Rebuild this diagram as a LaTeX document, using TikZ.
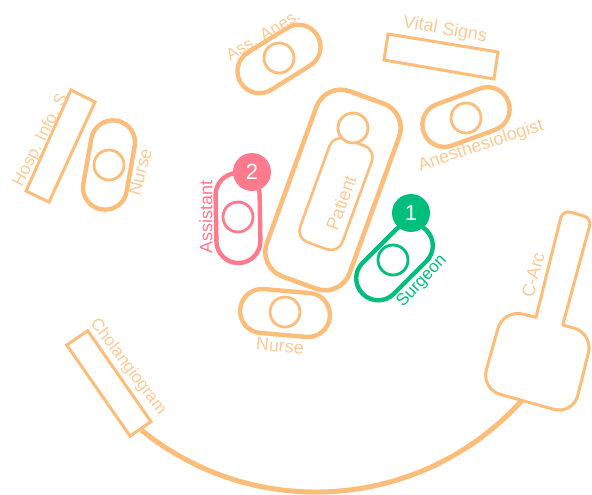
\documentclass[tikz,border=0pt]{standalone}
\usepackage{fontspec}
\setmainfont{Liberation Sans}
\definecolor{org}{HTML}{FDBD7A}
\definecolor{orgt}{HTML}{FFC993}
\definecolor{pnk}{HTML}{FF7A8C}
\definecolor{grn}{HTML}{00BF7D}
\tikzset{
  x=1pt,y=-1pt,
  pill/.style={draw=#1,line width=4.4pt,rounded corners=21.9pt,minimum width=44pt,minimum height=90pt,inner sep=0pt,outer sep=0pt},
  pill/.default=org,
  head/.style={draw=#1,line width=2.8pt,fill=white,circle,minimum size=30pt,inner sep=0pt,outer sep=0pt},
  head/.default=org,
  lbl/.style={text=#1,font=\fontsize{18}{18}\selectfont,inner sep=0pt},
  lbl/.default=orgt,
  lbls/.style={text=#1,font=\fontsize{17}{17}\selectfont,inner sep=0pt},
  lbls/.default=orgt,
  badge/.style={fill=#1,circle,minimum size=38pt,inner sep=0pt,text=white,font=\fontsize{22}{22}\selectfont},
  panel/.style={draw=org,line width=3pt,line join=miter},
}
\begin{document}
\begin{tikzpicture}
\useasboundingbox (0,0) rectangle (592,495);
% big arc
\coordinate (arcstart) at (141.7,430.3);
\draw[org,line width=5pt] (arcstart) arc[start angle=129,end angle=42,radius=277];
% table and patient
\node[draw=org,line width=4.6pt,rounded corners=26pt,minimum width=88pt,minimum height=197pt,rotate=-20,inner sep=0pt] (table) at (333,190) {};
\node[draw=org,line width=2.6pt,rounded corners=12pt,minimum width=45pt,minimum height=110pt,rotate=-20,inner sep=0pt] (body) at (336,194) {};
\node[head] (phead) at (353,128) {};
\node[lbl,rotate=70] (tp) at (341,203) {Patient};
% staff
\node[pill,rotate=-58] (asspill) at (279,59) {};
\node[head] (asshead) at (279,58) {};
\node[lbls,rotate=31] (asst) at (263,35) {Ass. Anes.};
\node[pill,rotate=-10] (np1) at (109,165) {};
\node[head] (nh1) at (109,165) {};
\node[lbl,rotate=75] (nt1) at (140,172) {Nurse};
\node[pill,rotate=85] (np2) at (285,313) {};
\node[head] (nh2) at (285,312) {};
\node[lbl,rotate=-5] (nt2) at (280,346) {Nurse};
\node[pill,rotate=-70] (anp) at (466,117) {};
\node[head] (anh) at (466,118) {};
\node[lbl,rotate=18.4] (ant) at (481,146) {Anesthesiologist};
\node[pill=grn,rotate=-45] (sp) at (394.5,262) {};
\node[head=grn] (sh) at (393,260) {};
\node[lbls=grn,rotate=47] (st) at (422,281) {Surgeon};
\node[pill=pnk,rotate=1] (ap) at (238,218) {};
\node[head=pnk] (ah) at (238,217) {};
\node[lbl=pnk,rotate=90] (at) at (206,217) {Assistant};
\node[badge=grn] (b1) at (411,213) {1};
\node[badge=pnk] (b2) at (252,172) {2};
% monitors
\draw[panel] (71,90) -- (95,102) -- (49,202) -- (26,191) -- cycle;
\node[lbls,rotate=63] (th) at (42,138) {Hosp. Info. S.};
\draw[panel] (388,34) -- (498,52) -- (494,79) -- (384,60) -- cycle;
\node[lbl,rotate=-10] (tv) at (445,30) {Vital Signs};
\draw[panel,fill=white] (87.7,330.7) -- (151,421.7) -- (130,436) -- (66.7,345) -- cycle;
\node[lbls,rotate=-53] (tc) at (128,367) {Cholangiogram};
% C-arc
\draw[org,line width=3pt,fill=white,line join=round] (536,317.3) [rounded corners=8pt] -- (562.7,210) -- (591.7,218.3) [sharp corners] -- (562.7,325) [rounded corners=20pt] -- (593.3,333.3) -- (573,414.7) -- (481,389) -- (503.3,309.3) [sharp corners] -- cycle;
\node[lbl,rotate=75] (tca) at (533,275) {C-Arc};
\end{tikzpicture}
\end{document}
